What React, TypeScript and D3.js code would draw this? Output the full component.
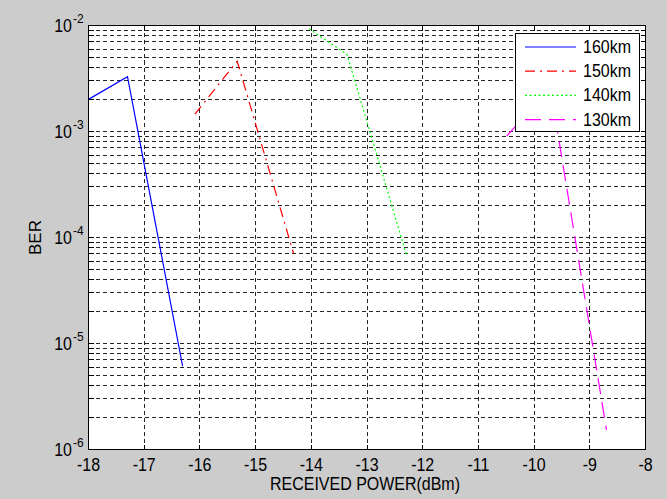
import React from 'react'
import * as d3 from 'd3'

// received power (dBm) and BER
const power160 = [-18, -17.3, -16.31]
const ber160 = [2.01e-3, 3.29e-3, 6.1e-6]
const power150 = [-16.09, -15.33, -14.32]
const ber150 = [1.46e-3, 4.6e-3, 7.1e-5]
const power140 = [-14.04, -13.36, -12.29]
const ber140 = [9.3e-3, 5.35e-3, 6.8e-5]
const power130 = [-10.49, -9.71, -8.7]
const ber130 = [9.07e-4, 2.61e-3, 1.53e-6]

const seriesNames = ['160km', '150km', '140km', '130km']
const seriesColors = ['#0000ff', '#ff0000', '#00ff00', '#ff00ff']
const seriesDash = ['none', '10,5,2,5', '2,2.5', '16,8']

const xTicks = [-18, -17, -16, -15, -14, -13, -12, -11, -10, -9, -8]
const yDecades = [-2, -3, -4, -5, -6]

const W = 667
const H = 499
const margin = { left: 88.5, right: 21.5, top: 25.5, bottom: 49.5 }
const FONT = 'Liberation Sans, Arial, sans-serif'

export default function App() {
  const x = d3.scaleLinear().domain([-18, -8]).range([margin.left, W - margin.right])
  const y = d3.scaleLog().domain([1e-6, 1e-2]).range([H - margin.bottom, margin.top])

  const series = [
    { name: seriesNames[0], xs: power160, ys: ber160 },
    { name: seriesNames[1], xs: power150, ys: ber150 },
    { name: seriesNames[2], xs: power140, ys: ber140 },
    { name: seriesNames[3], xs: power130, ys: ber130 },
  ]

  const line = d3.line<[number, number]>()
    .x(d => x(d[0]))
    .y(d => y(d[1]))

  // every minor/major log gridline between 1e-6 and 1e-2
  const yGrid: number[] = []
  for (let d = -6; d < -2; d++) {
    for (let k = 1; k <= 9; k++) yGrid.push(k * Math.pow(10, d))
  }
  yGrid.push(1e-2)

  const [x0, x1] = x.range()
  const [yb, yt] = y.range()
  const tick = 5

  const legend = { x: 515.5, y: 33.5, w: 123.5, h: 98 }

  return (
    <svg width={W} height={H} style={{ position: 'absolute', left: 0, top: 0 }} fontFamily={FONT}>
      <rect x={0} y={0} width={W} height={H} fill="#cccccc" />
      <rect x={x0} y={yt} width={x1 - x0} height={yb - yt} fill="#ffffff" />

      {/* grid */}
      <g stroke="#000" strokeWidth={1} strokeDasharray="4,3" shapeRendering="crispEdges" opacity={0.85}>
        {xTicks.slice(1, -1).map(t => (
          <line key={'gx' + t} x1={x(t)} x2={x(t)} y1={yt} y2={yb} />
        ))}
        {yGrid.slice(1, -1).map(v => (
          <line key={'gy' + v} x1={x0} x2={x1} y1={y(v)} y2={y(v)} />
        ))}
      </g>

      {/* ticks, inside on all sides */}
      <g stroke="#000" strokeWidth={1} shapeRendering="crispEdges">
        {xTicks.map(t => (
          <g key={'tx' + t}>
            <line x1={x(t)} x2={x(t)} y1={yb} y2={yb - tick} />
            <line x1={x(t)} x2={x(t)} y1={yt} y2={yt + tick} />
          </g>
        ))}
        {yGrid.map(v => (
          <g key={'ty' + v}>
            <line x1={x0} x2={x0 + tick} y1={y(v)} y2={y(v)} />
            <line x1={x1} x2={x1 - tick} y1={y(v)} y2={y(v)} />
          </g>
        ))}
      </g>

      {/* data */}
      <g fill="none" strokeWidth={1.2}>
        {series.map((s, i) => (
          <path
            key={s.name}
            d={line(s.xs.map((v, j) => [v, s.ys[j]] as [number, number])) || ''}
            stroke={seriesColors[i]}
            strokeDasharray={seriesDash[i]}
          />
        ))}
      </g>

      {/* axes box */}
      <rect x={x0} y={yt} width={x1 - x0} height={yb - yt} fill="none" stroke="#000" strokeWidth={1} shapeRendering="crispEdges" />

      {/* x tick labels */}
      {xTicks.map(t => (
        <text key={'lx' + t} transform={`translate(${x(t)},${yb + 21}) scale(1,1.1)`} textAnchor="middle" fontSize={16} fill="#000">
          {t}
        </text>
      ))}

      {/* y tick labels */}
      {yDecades.map(d => {
        const gy = y(Math.pow(10, d))
        return (
          <g key={'ly' + d} fill="#000">
            <text transform={`translate(72,${gy + 6}) scale(1,1.1)`} textAnchor="end" fontSize={16}>10</text>
            <text transform={`translate(73,${gy - 3}) scale(1,1.1)`} fontSize={12}>{d}</text>
          </g>
        )
      })}

      {/* axis titles */}
      <text transform={`translate(${(x0 + x1) / 2 - 2},490) scale(1,1.1)`} textAnchor="middle" fontSize={16} fill="#000">
        RECEIVED POWER(dBm)
      </text>
      <text transform={`translate(41,${(yt + yb) / 2}) rotate(-90)`} textAnchor="middle" fontSize={17} fill="#000">
        BER
      </text>

      {/* legend */}
      <g>
        <rect x={legend.x} y={legend.y} width={legend.w} height={legend.h} fill="#fff" stroke="#000" strokeWidth={1} shapeRendering="crispEdges" />
        {seriesNames.map((n, i) => {
          const ly = 47 + i * 24.2
          return (
            <g key={'lg' + n}>
              <line x1={525} x2={576} y1={ly} y2={ly} stroke={seriesColors[i]} strokeWidth={1.2} strokeDasharray={seriesDash[i]} />
              <text transform={`translate(583,${ly + 6}) scale(1,1.1)`} fontSize={16} fill="#000">{n}</text>
            </g>
          )
        })}
      </g>
    </svg>
  )
}
